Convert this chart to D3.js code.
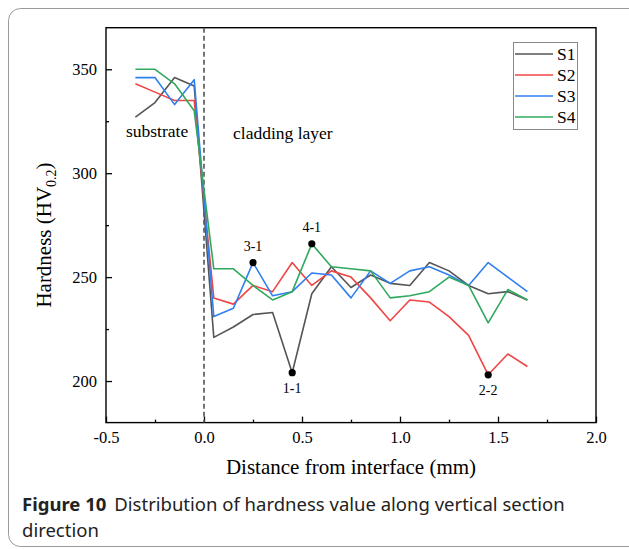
<!DOCTYPE html>
<html>
<head>
<meta charset="utf-8">
<script src="https://cdn.jsdelivr.net/npm/d3@7"></script>
<style>
  body { margin: 0; background: #fff; }
  svg { display: block; }
</style>
</head>
<body>
<div id="chart"></div>
<script>
// distance from interface (mm)
const distance = [-0.35, -0.25, -0.15, -0.05, 0.05, 0.15, 0.25, 0.35, 0.45, 0.55,
  0.65, 0.75, 0.85, 0.95, 1.05, 1.15, 1.25, 1.35, 1.45, 1.55, 1.65];
const s1 = [327, 334, 346, 342, 221, 226, 232, 233, 204, 242, 255, 245, 251, 247, 246, 257, 253, 246, 242, 243, 239];
const s2 = [343, 339, 335, 335, 240, 237, 246, 243, 257, 246, 253, 250, 240, 229, 239, 238, 231, 222, 203, 213, 207];
const s3 = [346, 346, 333, 345, 231, 235, 257, 241, 243, 252, 251, 240, 253, 247, 253, 255, 251, 246, 257, 250, 243];
const s4 = [350, 350, 343, 330, 254, 254, 246, 239, 243, 266, 255, 254, 253, 240, 241, 243, 250, 246, 228, 244, 239];
const seriesNames = ["S1", "S2", "S3", "S4"];
const seriesColors = ["#555555", "#f04545", "#2f7fef", "#30a85e"];
const xTicks = [-0.5, 0, 0.5, 1.0, 1.5, 2.0];
const xMinor = [-0.25, 0.25, 0.75, 1.25, 1.75];
const yTicks = [200, 250, 300, 350];
const yMinor = [225, 275, 325];
const marked = [
  { series: 0, x: 0.45, label: "1-1", below: true },
  { series: 1, x: 1.45, label: "2-2", below: true },
  { series: 2, x: 0.25, label: "3-1", below: false },
  { series: 3, x: 0.55, label: "4-1", below: false },
];

const W = 629, H = 549;
const serif = "'Liberation Serif', 'Times New Roman', serif";
const values = [s1, s2, s3, s4];

const x = d3.scaleLinear().domain([-0.5, 2.0]).range([106, 596]);
const y = d3.scaleLinear().domain([180, 370]).range([422.6, 27.7]);

const svg = d3.select("#chart").append("svg")
  .attr("width", W).attr("height", H);

svg.append("rect").attr("width", W).attr("height", H).attr("fill", "#fff");

// card border
svg.append("rect")
  .attr("x", 8.5).attr("y", 8.5)
  .attr("width", W + 20).attr("height", 538)
  .attr("rx", 12)
  .attr("fill", "none")
  .attr("stroke", "#9a9a9a")
  .attr("stroke-width", 1);

// axes
const gx = svg.append("g").attr("transform", `translate(0,${y.range()[0]})`)
  .style("font-family", serif).style("font-size", "16.5px");
gx.call(d3.axisBottom(x).tickValues(xTicks).tickSize(-6).tickPadding(9)
  .tickFormat((d) => d.toFixed(1)));
gx.append("g").call(d3.axisBottom(x).tickValues(xMinor).tickSize(-3).tickFormat(""));
gx.selectAll(".domain").remove();
gx.selectAll("line").attr("stroke", "#000").attr("stroke-width", 1.3);
gx.selectAll("text").attr("fill", "#000");

const gy = svg.append("g").attr("transform", `translate(${x.range()[0]},0)`)
  .style("font-family", serif).style("font-size", "16.5px");
gy.call(d3.axisLeft(y).tickValues(yTicks).tickSize(-6).tickPadding(9));
gy.append("g").call(d3.axisLeft(y).tickValues(yMinor).tickSize(-3).tickFormat(""));
gy.selectAll(".domain").remove();
gy.selectAll("line").attr("stroke", "#000").attr("stroke-width", 1.3);
gy.selectAll("text").attr("fill", "#000");

// frame
svg.append("rect")
  .attr("x", x.range()[0]).attr("y", y.range()[1])
  .attr("width", x.range()[1] - x.range()[0])
  .attr("height", y.range()[0] - y.range()[1])
  .attr("fill", "none").attr("stroke", "#000").attr("stroke-width", 1.4);

// interface line
svg.append("line")
  .attr("x1", x(0)).attr("x2", x(0))
  .attr("y1", y.range()[1]).attr("y2", y.range()[0])
  .attr("stroke", "#555").attr("stroke-width", 1.6)
  .attr("stroke-dasharray", "5,3");

// series
const line = d3.line().x((d) => x(d[0])).y((d) => y(d[1]));
values.forEach((vals, i) => {
  svg.append("path")
    .datum(distance.map((d, j) => [d, vals[j]]))
    .attr("d", line)
    .attr("fill", "none")
    .attr("stroke", seriesColors[i])
    .attr("stroke-width", 1.6)
    .attr("stroke-linejoin", "round");
});

// marked points
marked.forEach((m) => {
  const v = values[m.series][distance.indexOf(m.x)];
  svg.append("circle")
    .attr("cx", x(m.x)).attr("cy", y(v)).attr("r", 3.6)
    .attr("fill", "#000");
  svg.append("text")
    .attr("x", x(m.x))
    .attr("y", m.below ? y(v) + 20 : y(v) - 12)
    .attr("text-anchor", "middle")
    .style("font-family", serif).style("font-size", "14px")
    .text(m.label);
});

// region labels
svg.append("text").attr("x", 126).attr("y", 137)
  .style("font-family", serif).style("font-size", "17.5px")
  .text("substrate");
svg.append("text").attr("x", 233).attr("y", 139)
  .style("font-family", serif).style("font-size", "17.5px")
  .text("cladding layer");

// legend
svg.append("rect")
  .attr("x", 513.5).attr("y", 42.5).attr("width", 64).attr("height", 87)
  .attr("fill", "#fff").attr("stroke", "#888").attr("stroke-width", 1);
seriesNames.forEach((name, i) => {
  const ly = 54 + i * 21;
  svg.append("line")
    .attr("x1", 515).attr("x2", 553).attr("y1", ly).attr("y2", ly)
    .attr("stroke", seriesColors[i]).attr("stroke-width", 1.6);
  svg.append("text")
    .attr("x", 557).attr("y", ly + 6)
    .style("font-family", serif).style("font-size", "17.5px")
    .text(name);
});

// axis titles
svg.append("text")
  .attr("x", (x.range()[0] + x.range()[1]) / 2).attr("y", 474)
  .attr("text-anchor", "middle")
  .style("font-family", serif).style("font-size", "21px")
  .text("Distance from interface (mm)");

const yt = svg.append("text")
  .attr("transform", "translate(51,235) rotate(-90)")
  .attr("text-anchor", "middle")
  .style("font-family", serif).style("font-size", "21px");
yt.append("tspan").text("Hardness (HV");
yt.append("tspan").attr("dy", 5).style("font-size", "14px").text("0.2");
yt.append("tspan").attr("dy", -5).text(")");

// caption
const cap = svg.append("g").style("font-family", "'Noto Sans', 'Open Sans', sans-serif")
  .style("font-size", "18.5px").attr("fill", "#222");
const c1 = cap.append("text").attr("x", 22).attr("y", 511);
c1.append("tspan").style("font-weight", "bold").text("Figure 10");
c1.append("tspan").attr("dx", 8).text("Distribution of hardness value along vertical section");
cap.append("text").attr("x", 22).attr("y", 537).text("direction");
</script>
</body>
</html>
